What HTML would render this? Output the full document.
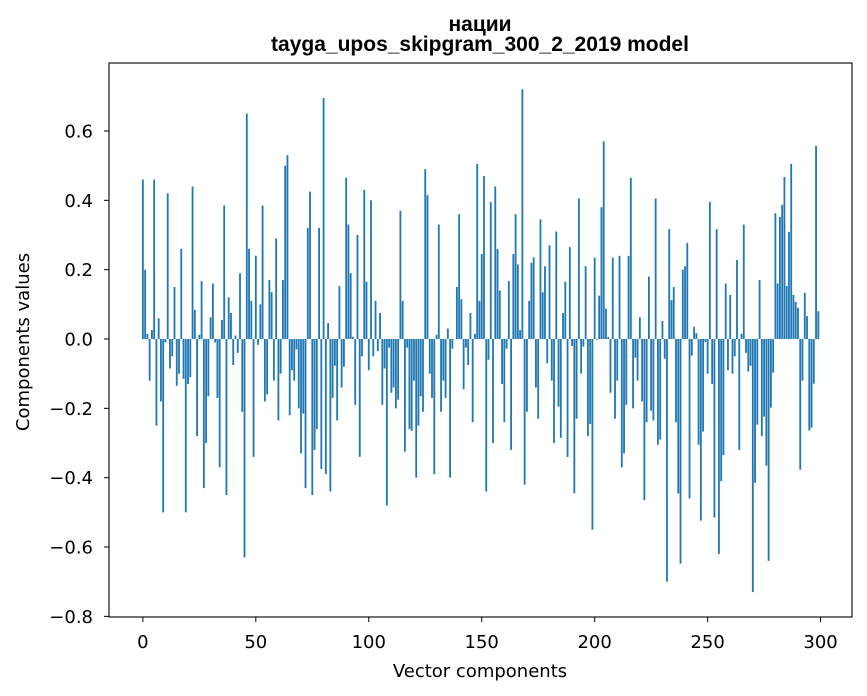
<!DOCTYPE html>
<html><head><meta charset="utf-8"><style>
body{margin:0;background:#fff;}
svg{display:block;font-family:"DejaVu Sans","Liberation Sans",sans-serif;}
</style></head><body>
<svg id="chart" width="867" height="696" viewBox="0 0 867 696">
<rect x="0" y="0" width="867" height="696" fill="#fff"/>
<text x="480" y="31" text-anchor="middle" font-size="21" font-weight="bold" font-family="Liberation Sans, sans-serif">нации</text>
<text x="480" y="51" text-anchor="middle" font-size="21" font-weight="bold" font-family="Liberation Sans, sans-serif">tayga_upos_skipgram_300_2_2019 model</text>
<g id="bars"></g>
<g id="xticks"></g>
<g id="yticks"></g>
<rect x="109" y="63" width="743" height="554" fill="none" stroke="#000" stroke-width="1.1"/>
<text x="480" y="677" text-anchor="middle" font-size="18">Vector components</text>
<text transform="translate(29,342) rotate(-90)" text-anchor="middle" font-size="18">Components values</text>
</svg>
<script>
const values = [
0.46,0.20,0.015,-0.12,0.026,0.46,-0.25,0.06,-0.18,-0.50,
-0.01,0.42,-0.085,-0.05,0.15,-0.135,-0.10,0.26,-0.115,-0.50,
-0.13,-0.11,0.44,0.084,-0.28,0.012,0.167,-0.43,-0.30,-0.165,
0.063,0.16,-0.01,-0.17,-0.37,0.055,0.385,-0.45,0.12,0.075,
-0.075,0.01,-0.04,0.19,-0.21,-0.63,0.65,0.26,0.11,-0.34,
0.24,-0.017,0.10,0.385,-0.18,-0.16,0.17,0.135,-0.12,0.29,
-0.235,-0.10,0.17,0.50,0.53,-0.22,-0.09,-0.12,-0.03,-0.20,
-0.33,-0.215,-0.43,0.32,0.425,-0.45,-0.32,-0.26,0.32,-0.375,
0.695,-0.39,0.046,-0.44,-0.17,-0.077,-0.235,0.153,-0.14,-0.08,
0.465,0.33,0.19,0.006,-0.19,0.30,-0.34,-0.05,0.43,0.165,
-0.09,0.40,-0.05,0.11,-0.035,0.075,-0.19,-0.085,-0.48,-0.025,
-0.155,-0.14,-0.20,-0.175,0.37,0.11,-0.325,-0.025,-0.26,-0.265,
-0.12,-0.40,-0.25,-0.165,-0.21,0.49,0.415,-0.10,-0.17,-0.39,
0.012,0.33,-0.21,-0.12,-0.17,0.03,-0.40,-0.028,0.0,0.15,
0.36,0.115,-0.145,-0.025,-0.075,0.075,-0.24,0.015,0.505,0.11,
0.245,0.47,-0.44,-0.06,0.395,-0.30,0.44,0.26,0.14,-0.13,
-0.24,-0.028,0.167,-0.32,0.245,0.36,0.215,0.026,0.72,-0.42,
-0.21,0.11,0.22,0.235,-0.14,-0.23,0.345,0.135,0.21,-0.07,
0.27,-0.12,-0.30,0.31,-0.195,-0.285,0.075,0.165,-0.34,0.265,
-0.02,-0.445,-0.23,0.405,-0.10,-0.022,0.21,-0.28,-0.245,-0.55,
0.235,-0.002,0.125,0.38,0.57,0.087,0.006,-0.155,0.235,-0.23,
-0.12,0.24,-0.37,-0.33,-0.19,0.24,0.465,-0.20,-0.054,-0.12,
0.063,-0.18,-0.465,-0.24,0.18,-0.207,-0.235,0.405,-0.305,-0.29,
0.052,-0.057,-0.70,0.317,0.112,0.15,-0.24,-0.446,-0.648,0.20,
0.21,0.277,-0.46,-0.048,0.035,0.017,-0.305,-0.524,-0.267,-0.009,
-0.10,0.395,-0.13,-0.515,0.317,-0.62,-0.41,-0.335,0.16,-0.09,
0.127,-0.10,-0.05,0.228,-0.32,0.015,0.33,-0.04,-0.094,-0.077,
-0.73,-0.415,-0.247,0.17,-0.28,-0.224,-0.365,-0.64,-0.198,-0.097,
0.363,0.16,0.352,0.387,0.467,0.153,0.309,0.505,0.127,0.107,
0.09,-0.377,-0.12,0.133,0.066,-0.264,-0.256,-0.129,0.557,0.08
];
const xTickValues = [0,50,100,150,200,250,300];
const yTickValues = [-0.8,-0.6,-0.4,-0.2,0.0,0.2,0.4,0.6];
const yTickLabels = ["\u22120.8","\u22120.6","\u22120.4","\u22120.2","0.0","0.2","0.4","0.6"];

const NS = "http://www.w3.org/2000/svg";
function xScale(v){ return 109 + (v + 14.99) * (743 / 328.9); }
function yScale(v){ return 339 - v * 346.7; }
const bw = 0.8 * 743 / 328.9;

const gb = document.getElementById('bars');
values.forEach((v, i) => {
  const r = document.createElementNS(NS, 'rect');
  const y0 = yScale(0), y1 = yScale(v);
  r.setAttribute('x', (xScale(i) - bw / 2).toFixed(2));
  r.setAttribute('y', Math.min(y0, y1).toFixed(2));
  r.setAttribute('width', bw.toFixed(2));
  r.setAttribute('height', Math.max(Math.abs(y1 - y0), 0.01).toFixed(2));
  r.setAttribute('fill', '#1f77b4');
  
  
  gb.appendChild(r);
});

const gx = document.getElementById('xticks');
xTickValues.forEach(t => {
  const x = xScale(t);
  const l = document.createElementNS(NS, 'line');
  l.setAttribute('x1', x); l.setAttribute('x2', x);
  l.setAttribute('y1', 617); l.setAttribute('y2', 622);
  l.setAttribute('stroke', '#000');
  
  
  gx.appendChild(l);
  const tx = document.createElementNS(NS, 'text');
  tx.setAttribute('x', x); tx.setAttribute('y', 648);
  tx.setAttribute('text-anchor', 'middle');
  tx.setAttribute('font-size', '18');
  tx.textContent = String(t);
  
  
  gx.appendChild(tx);
});

const gy = document.getElementById('yticks');
yTickValues.forEach((t, i) => {
  const y = yScale(t);
  const l = document.createElementNS(NS, 'line');
  l.setAttribute('x1', 104); l.setAttribute('x2', 109);
  l.setAttribute('y1', y); l.setAttribute('y2', y);
  l.setAttribute('stroke', '#000');
  
  
  gy.appendChild(l);
  const tx = document.createElementNS(NS, 'text');
  tx.setAttribute('x', 93); tx.setAttribute('y', y + 6.5);
  tx.setAttribute('text-anchor', 'end');
  tx.setAttribute('font-size', '18');
  tx.textContent = yTickLabels[i];
  
  
  gy.appendChild(tx);
});
</script>
</body></html>
